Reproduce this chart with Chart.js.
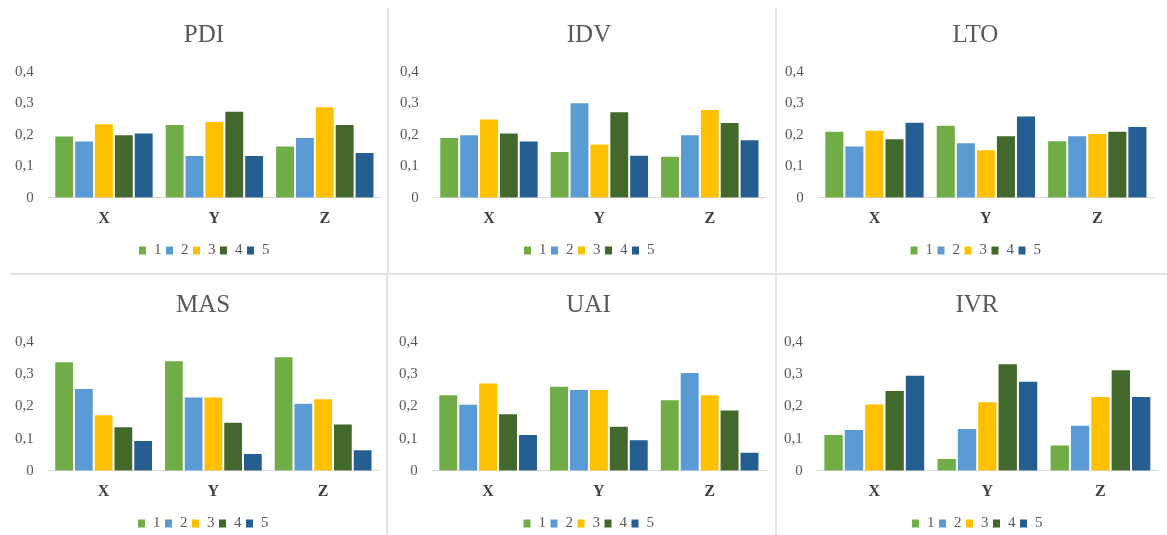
<!DOCTYPE html>
<html>
<head>
<meta charset="utf-8">
<script src="https://cdn.jsdelivr.net/npm/chart.js@4.4.0/dist/chart.umd.min.js"></script>
<style>
  body { margin: 0; background: #fff; }
  #wrap { position: relative; width: 1167px; height: 535px; overflow: hidden; }
  .panel { position: absolute; height: 273px; }
  .vline { position: absolute; width: 2px; background: #e3e3e3; }
  .hline { position: absolute; height: 2px; background: #e3e3e3; }
</style>
</head>
<body>
<div id="wrap">
  <div class="panel" style="left:0;top:0;width:415px"><canvas id="c0"></canvas></div>
  <div class="panel" style="left:385px;top:0;width:415px"><canvas id="c1"></canvas></div>
  <div class="panel" style="left:770px;top:0;width:418px"><canvas id="c2"></canvas></div>
  <div class="panel" style="left:0;top:275px;width:413px"><canvas id="c3"></canvas></div>
  <div class="panel" style="left:384px;top:275px;width:416px"><canvas id="c4"></canvas></div>
  <div class="panel" style="left:769px;top:275px;width:423px"><canvas id="c5"></canvas></div>
  <div class="vline" style="left:387px;top:8px;height:265px"></div>
  <div class="vline" style="left:775px;top:8px;height:265px"></div>
  <div class="hline" style="left:10px;top:273px;width:1157px"></div>
  <div class="vline" style="left:386px;top:275px;height:260px"></div>
  <div class="vline" style="left:775px;top:275px;height:260px"></div>
</div>
<script>
Chart.defaults.font.family = '"Liberation Serif", "Times New Roman", serif';
Chart.defaults.color = '#595959';

var categories = ['X', 'Y', 'Z'];
var seriesNames = ['1', '2', '3', '4', '5'];
var seriesColors = ['#70AD47', '#5B9BD5', '#FFC000', '#43682B', '#255E91'];
var titles = ['PDI', 'IDV', 'LTO', 'MAS', 'UAI', 'IVR'];

// values per series (1..5), each for X, Y, Z
var pdi = [[0.198, 0.235, 0.166], [0.182, 0.136, 0.193], [0.237, 0.244, 0.291], [0.202, 0.277, 0.235], [0.208, 0.136, 0.146]];
var idv = [[0.193, 0.149, 0.134], [0.202, 0.304, 0.202], [0.252, 0.173, 0.282], [0.208, 0.275, 0.241], [0.182, 0.137, 0.186]];
var lto = [[0.213, 0.232, 0.183], [0.166, 0.177, 0.199], [0.216, 0.154, 0.206], [0.189, 0.199, 0.213], [0.242, 0.262, 0.228]];
var mas = [[0.340, 0.343, 0.356], [0.257, 0.231, 0.211], [0.176, 0.231, 0.225], [0.138, 0.152, 0.147], [0.096, 0.055, 0.067]];
var uai = [[0.238, 0.264, 0.222], [0.208, 0.254, 0.307], [0.274, 0.254, 0.238], [0.179, 0.140, 0.190], [0.114, 0.098, 0.059]];
var ivr = [[0.114, 0.040, 0.082], [0.130, 0.133, 0.143], [0.209, 0.216, 0.232], [0.251, 0.334, 0.315], [0.298, 0.280, 0.232]];

var yTicks = [0, 0.1, 0.2, 0.3, 0.4];
var tickLabels = ['0', '0,1', '0,2', '0,3', '0,4'];

var allData = [pdi, idv, lto, mas, uai, ivr];

function makeChart(i) {
  var topRow = i < 3;
  var datasets = allData[i].map(function (vals, k) {
    return {
      label: seriesNames[k],
      data: vals,
      backgroundColor: seriesColors[k],
      borderColor: '#ffffff',
      borderWidth: 1,
      borderSkipped: 'bottom',
      barPercentage: 1,
      categoryPercentage: 0.9
    };
  });

  new Chart(document.getElementById('c' + i), {
    type: 'bar',
    data: { labels: categories, datasets: datasets },
    options: {
      responsive: true,
      maintainAspectRatio: false,
      animation: false,
      layout: { padding: { left: 0, right: 7, top: topRow ? 20 : 15, bottom: topRow ? 5 : 7 } },
      plugins: {
        title: {
          display: true,
          text: titles[i],
          color: '#595959',
          font: { size: 25, weight: 'normal' },
          padding: { top: 0, bottom: 22 }
        },
        legend: {
          position: 'bottom',
          labels: {
            boxWidth: 8,
            boxHeight: 9,
            padding: 4,
            color: '#595959',
            font: { size: 15 }
          }
        },
        tooltip: { enabled: false }
      },
      scales: {
        x: {
          grid: { display: false, drawTicks: false },
          border: { color: '#d9d9d9', width: 1 },
          ticks: { color: '#404040', font: { size: 16, weight: 'bold' }, padding: 11 }
        },
        y: {
          min: 0,
          max: 0.4,
          afterBuildTicks: function (axis) {
            axis.ticks = yTicks.map(function (v) { return { value: v }; });
          },
          grid: { display: false, drawTicks: false },
          border: { display: false },
          ticks: {
            color: '#595959',
            font: { size: 15 },
            padding: 15,
            callback: function (v) { return tickLabels[yTicks.indexOf(Math.round(v * 10) / 10)]; }
          }
        },
        // empty right-hand spacer so the title and legend sit a bit left of the plot centre
        spacer: {
          type: 'linear',
          position: 'right',
          grid: { display: false, drawTicks: false },
          border: { display: false },
          ticks: { display: false },
          afterFit: function (axis) { axis.width = 28; }
        }
      }
    }
  });
}

for (var i = 0; i < 6; i++) makeChart(i);
</script>
</body>
</html>
